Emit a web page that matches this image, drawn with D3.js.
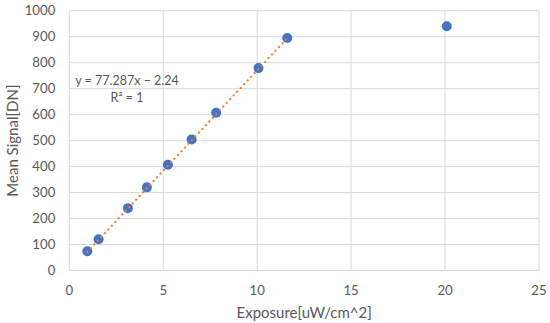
<!DOCTYPE html>
<html>
<head>
<meta charset="utf-8">
<script src="https://cdn.jsdelivr.net/npm/d3@7"></script>
<style>
  body { margin: 0; background: #fff; }
  svg text { font-family: Lato, "Open Sans", sans-serif; fill: #595959; }
</style>
</head>
<body>
<svg id="chart" width="550" height="323"></svg>
<script>
// measured exposure vs. mean signal
const exposure = [0.96, 1.56, 3.12, 4.13, 5.25, 6.51, 7.82, 10.07, 11.6, 20.09];
const meanSignal = [74, 120, 240, 320, 407, 504, 607, 779, 895, 940];
const xTicks = [0, 5, 10, 15, 20, 25];
const yTicks = [0, 100, 200, 300, 400, 500, 600, 700, 800, 900, 1000];
const slope = 77.287, intercept = -2.24;
const fitRange = [0.96, 11.6];

const width = 550, height = 323;
const margin = {top: 10.7, right: 11, bottom: 52.5, left: 69.3};

const svg = d3.select('#chart');

const x = d3.scaleLinear()
    .domain([0, 25])
    .range([margin.left, width - margin.right]);

const y = d3.scaleLinear()
    .domain([0, 1000])
    .range([height - margin.bottom, margin.top]);

// gridlines
svg.append('g')
    .selectAll('line')
    .data(yTicks)
    .enter()
    .append('line')
    .attr('x1', x(0)).attr('x2', x(25))
    .attr('y1', d => y(d)).attr('y2', d => y(d))
    .attr('stroke', '#d9d9d9')
    .attr('stroke-width', 1);

svg.append('g')
    .selectAll('line')
    .data(xTicks)
    .enter()
    .append('line')
    .attr('x1', d => x(d)).attr('x2', d => x(d))
    .attr('y1', y(0)).attr('y2', y(1000))
    .attr('stroke', '#d9d9d9')
    .attr('stroke-width', 1);

// tick labels
svg.append('g')
    .selectAll('text')
    .data(yTicks)
    .enter()
    .append('text')
    .attr('x', x(0) - 14)
    .attr('y', d => y(d))
    .attr('dy', '0.35em')
    .attr('text-anchor', 'end')
    .style('font-size', '13.2px')
    .text(d => d);

svg.append('g')
    .selectAll('text')
    .data(xTicks)
    .enter()
    .append('text')
    .attr('x', d => x(d))
    .attr('y', y(0) + 24)
    .attr('text-anchor', 'middle')
    .style('font-size', '13.2px')
    .text(d => d);

// axis titles
svg.append('text')
    .attr('x', (x(0) + x(25)) / 2)
    .attr('y', 318)
    .attr('text-anchor', 'middle')
    .style('font-size', '15px')
    .text('Exposure[uW/cm^2]');

svg.append('text')
    .attr('transform', `translate(18, ${(y(0) + y(1000)) / 2}) rotate(-90)`)
    .attr('text-anchor', 'middle')
    .style('font-size', '15px')
    .text('Mean Signal[DN]');

function trendline() {
    svg.append('line')
        .attr('x1', x(fitRange[0]))
        .attr('y1', y(slope * fitRange[0] + intercept))
        .attr('x2', x(fitRange[1]))
        .attr('y2', y(slope * fitRange[1] + intercept))
        .attr('stroke', '#ed7d31')
        .attr('stroke-width', 2.2)
        .attr('stroke-linecap', 'round')
        .attr('stroke-dasharray', '0.1 5');
}

// points
const pts = exposure.map((e, i) => ({x: e, y: meanSignal[i]}));
svg.append('g')
    .selectAll('circle')
    .data(pts)
    .enter()
    .append('circle')
    .attr('cx', d => x(d.x))
    .attr('cy', d => y(d.y))
    .attr('r', 5)
    .attr('fill', '#4472c4');

// trendline sits over the markers in the original
trendline();

// equation label
svg.append('text')
    .attr('x', 127)
    .attr('y', 85)
    .attr('text-anchor', 'middle')
    .style('font-size', '12.5px')
    .text('y = 77.287x \u2212 2.24');

svg.append('text')
    .attr('x', 127)
    .attr('y', 102)
    .attr('text-anchor', 'middle')
    .style('font-size', '12.5px')
    .text('R\u00b2 = 1');
</script>
</body>
</html>
